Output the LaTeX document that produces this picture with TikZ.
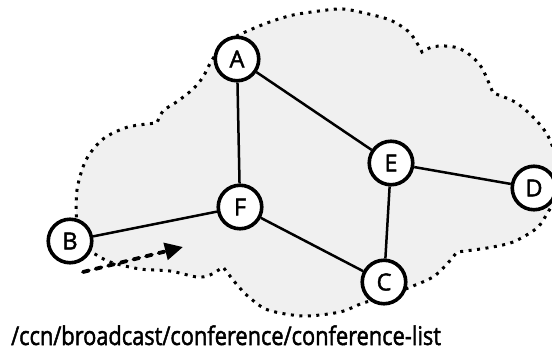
\documentclass[tikz,border=0pt]{standalone}
\usepackage{fontspec}
\setmainfont{Open Sans}
\newfontfamily\heavyfont{Open Sans}[FakeBold=2]
\usetikzlibrary{arrows.meta}
\begin{document}
\begin{tikzpicture}[x=1pt,y=-1pt,
  nd/.style={circle,draw,line width=3.6pt,fill=white,minimum size=43.5pt,inner sep=0pt,font=\heavyfont\fontsize{23.5}{23.5}\selectfont},
  edge/.style={line width=2.5pt},
  cloudshape/.style={fill=black!6,draw=black,line width=3pt,dash pattern=on 3pt off 5.5pt},
  flow/.style={line width=3.8pt,line cap=round,dash pattern=on 6pt off 7pt,-{Triangle[length=18pt,width=17pt,line cap=butt]}},
  caption/.style={anchor=base west,inner sep=0pt,font=\heavyfont\fontsize{21.8}{21.8}\selectfont}
]
\useasboundingbox (0,0) rectangle (552,353);
\clip (0,0) rectangle (552,353);
\path[cloudshape]
  plot[smooth] coordinates {(85,250) (77,225) (77,190) (86,160) (103,139) (128,127) (157,123)}
  -- plot[smooth] coordinates {(157,123) (163,111) (178,101) (193,89) (203,77) (212,60) (225,42)}
  -- plot[smooth] coordinates {(225,42) (243,33) (267,23) (293,15) (327,10) (343,9) (360,12) (390,20) (410,33) (422,52)}
  -- plot[smooth] coordinates {(422,52) (432,47) (445,46) (458,48) (470,55) (482,68) (493,93)}
  -- plot[smooth] coordinates {(493,93) (515,102) (533,117) (548,136) (558,165) (557,195) (548,212) (537,228) (513,242) (487,248) (457,252)}
  -- plot[smooth] coordinates {(457,252) (447,264) (433,277) (413,286) (385,297) (363,303) (340,312) (303,316) (268,310) (250,298) (238,286) (223,267)}
  -- plot[smooth] coordinates {(223,267) (210,275) (197,277) (170,271) (140,269) (110,262) (93,253) (85,250)}
  -- cycle;
\node[nd] (A) at (237,59) {A};
\node[nd] (E) at (391,163) {E};
\node[nd] (D) at (534,188) {D};
\node[nd] (F) at (240,207) {F};
\node[nd] (B) at (70,241) {B};
\node[nd] (C) at (384,282) {C};
\draw[edge] (A) -- (F);
\draw[edge] (A) -- (E);
\draw[edge] (E) -- (D);
\draw[edge] (E) -- (C);
\draw[edge] (F) -- (C);
\draw[edge] (B) -- (F);
\coordinate (s) at (83,272);
\coordinate (t) at (183,247);
\draw[flow] (s) -- (t);
\node[caption] (cap) at (11,345) {\scalebox{1}[1.18]{/ccn/broadcast/conference/conference-list}};
\end{tikzpicture}
\end{document}
